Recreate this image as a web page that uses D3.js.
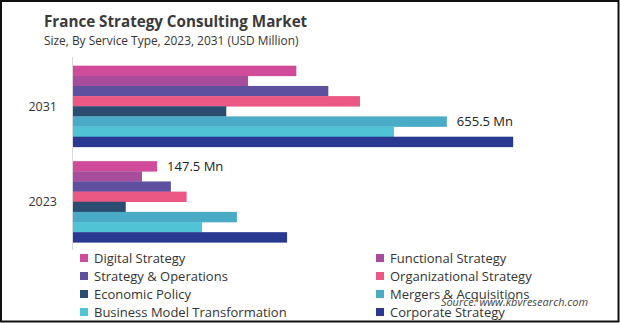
<!DOCTYPE html>
<html>
<head>
<meta charset="utf-8">
<script src="https://cdn.jsdelivr.net/npm/d3@7"></script>
<style>
  body { margin: 0; background: #fff; }
  svg { display: block; font-family: "Open Sans", "Noto Sans", sans-serif; }
</style>
</head>
<body>
<div id="graphicContainer"></div>
<script>
// service types, drawn top to bottom inside each year group
var segments = ["Digital Strategy", "Functional Strategy", "Strategy & Operations", "Organizational Strategy",
  "Economic Policy", "Mergers & Acquisitions", "Business Model Transformation", "Corporate Strategy"]
var colors = ["#d04c9b", "#a84c9c", "#5f4f9f", "#ea5883", "#2b4d72", "#4aabc6", "#50c4d4", "#293891"]
var years = ["2031", "2023"]
var values2031 = [391.6, 306.8, 447.7, 503.2, 268.8, 655.5, 562.8, 771.8]
var values2023 = [147.5, 121.0, 171.6, 199.3, 92.5, 287.4, 226.3, 375.4]
// bars that carry a value label: [year, segment]
var callouts = [["2031", "Mergers & Acquisitions"], ["2023", "Digital Strategy"]]

var width = 620, height = 323
var byYear = { "2031": values2031, "2023": values2023 }

var svg = d3.select("#graphicContainer").append("svg")
  .attr("width", width).attr("height", height)

svg.append("rect")
  .attr("x", 1).attr("y", 1).attr("width", 617.5).attr("height", 320.5)
  .attr("fill", "none").attr("stroke", "#111").attr("stroke-width", 2)

svg.append("text").attr("x", 44).attr("y", 27)
  .attr("font-size", 15.2).attr("font-weight", "bold").attr("fill", "#3a3a3a")
  .text("France Strategy Consulting Market")

svg.append("text").attr("x", 44).attr("y", 45)
  .attr("font-size", 11.9).attr("fill", "#333")
  .text("Size, By Service Type, 2023, 2031 (USD Million)")

var x = d3.scaleLinear().domain([0, 100]).range([73, 73 + 57.03])

var y = d3.scaleBand().domain(years).range([59, 249])
  .paddingInner(0.15).paddingOuter(0.07)

var yInner = d3.scaleBand().domain(segments).range([0, y.bandwidth()])

// baseline
svg.append("line")
  .attr("x1", 72.5).attr("x2", 72.5).attr("y1", 57).attr("y2", 250)
  .attr("stroke", "#d9d9d9").attr("stroke-width", 1)

var groups = svg.selectAll(".year").data(years).enter().append("g")
  .attr("class", "year")
  .attr("transform", d => "translate(0," + y(d) + ")")

groups.selectAll("rect")
  .data(yr => byYear[yr].map((v, i) => ({ year: yr, seg: segments[i], value: v, color: colors[i] })))
  .enter().append("rect")
  .attr("x", x(0))
  .attr("y", d => yInner(d.seg))
  .attr("width", d => x(d.value) - x(0))
  .attr("height", yInner.bandwidth() + 0.3)
  .attr("fill", d => d.color)

groups.append("text")
  .attr("x", 57).attr("y", y.bandwidth() / 2)
  .attr("dy", "0.35em").attr("text-anchor", "end")
  .attr("font-size", 12.5).attr("fill", "#333")
  .text(d => d)

callouts.forEach(function (c) {
  var v = byYear[c[0]][segments.indexOf(c[1])]
  svg.append("text")
    .attr("x", x(v) + 10)
    .attr("y", y(c[0]) + yInner(c[1]) + yInner.bandwidth() / 2)
    .attr("dy", "0.35em")
    .attr("font-size", 13).attr("fill", "#222")
    .text(d3.format(".1f")(v) + "  Mn")
})

// legend, two columns
var legend = svg.selectAll(".legend").data(segments).enter().append("g")
  .attr("class", "legend")
  .attr("transform", (d, i) => "translate(" + (i % 2 ? 376 : 80) + "," + (258 + Math.floor(i / 2) * 18) + ")")

legend.append("rect")
  .attr("x", 0).attr("y", -4).attr("width", 8).attr("height", 8)
  .attr("fill", (d, i) => colors[i])

legend.append("text")
  .attr("x", 14).attr("dy", "0.35em")
  .attr("font-size", 13).attr("fill", "#333")
  .text(d => d)

svg.append("text").attr("x", 588).attr("y", 306)
  .attr("text-anchor", "end").attr("font-size", 11).attr("font-style", "italic")
  .attr("fill", "#444")
  .text("Source: www.kbvresearch.com")
</script>
</body>
</html>
